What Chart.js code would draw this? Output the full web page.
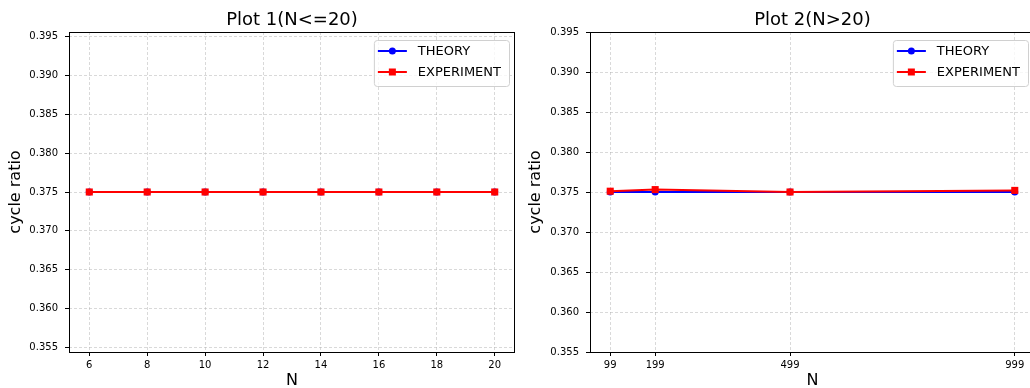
<!DOCTYPE html>
<html>
<head>
<meta charset="utf-8">
<script src="https://cdn.jsdelivr.net/npm/chart.js@4.4.0/dist/chart.umd.min.js"></script>
<style>
  html, body { margin: 0; padding: 0; background: #fff; overflow: hidden; }
  #wrap { position: relative; width: 1030px; height: 388px; overflow: hidden; background: #fff; }
  .box { position: absolute; top: 0; width: 520px; height: 388px; }
</style>
</head>
<body>
<div id="wrap">
  <div class="box" style="left:0"><canvas id="plot1" width="520" height="388"></canvas></div>
  <div class="box" style="left:520px"><canvas id="plot2" width="520" height="388"></canvas></div>
</div>
<script>
// data
const nSmall = [6, 8, 10, 12, 14, 16, 18, 20];
const theorySmall = [0.375, 0.375, 0.375, 0.375, 0.375, 0.375, 0.375, 0.375];
const experimentSmall = [0.375, 0.375, 0.375, 0.375, 0.375, 0.375, 0.375, 0.375];

const nLarge = [99, 199, 499, 999];
const theoryLarge = [0.375, 0.375, 0.375, 0.375];
const experimentLarge = [0.3751, 0.3753, 0.3750, 0.3752];

const yTickValues = [0.355, 0.360, 0.365, 0.370, 0.375, 0.380, 0.385, 0.390, 0.395];

const FONT = '"DejaVu Sans", sans-serif';

// frame, title and legend drawn like matplotlib
const decorations = {
  id: 'decorations',
  afterDraw(chart, args, opts) {
    const { ctx, chartArea: a } = chart;
    ctx.save();

    // axes frame
    ctx.strokeStyle = '#000';
    ctx.lineWidth = 1;
    ctx.strokeRect(Math.round(a.left) + 0.5, Math.round(a.top) + 0.5,
      Math.round(a.right - a.left) - 1, Math.round(a.bottom - a.top));

    // title
    ctx.fillStyle = '#000';
    ctx.font = '18px ' + FONT;
    ctx.textAlign = 'center';
    ctx.textBaseline = 'middle';
    ctx.fillText(opts.title, opts.titleX, 20);

    // legend
    ctx.font = '13px ' + FONT;
    const items = chart.data.datasets;
    let textW = 0;
    items.forEach(d => { textW = Math.max(textW, ctx.measureText(d.label).width); });
    const w = 44 + textW + 8;
    const h = 46;
    const x0 = opts.legendRight - w;
    const y0 = 40;
    ctx.beginPath();
    ctx.roundRect(x0 + 0.5, y0 + 0.5, w, h, 3);
    ctx.fillStyle = 'rgba(255,255,255,0.8)';
    ctx.fill();
    ctx.strokeStyle = '#d0d0d0';
    ctx.stroke();

    const legendOrder = [...items].sort((p, q) => p.legendIndex - q.legendIndex);
    legendOrder.forEach((d, i) => {
      const y = y0 + 11 + i * 21;
      ctx.strokeStyle = d.borderColor;
      ctx.lineWidth = 2;
      ctx.beginPath();
      ctx.moveTo(x0 + 4, y);
      ctx.lineTo(x0 + 33, y);
      ctx.stroke();
      ctx.fillStyle = d.borderColor;
      if (d.pointStyle === 'rect') {
        ctx.fillRect(x0 + 18.5 - 3.5, y - 3.5, 7, 7);
      } else {
        ctx.beginPath();
        ctx.arc(x0 + 18.5, y, 3.5, 0, Math.PI * 2);
        ctx.fill();
      }
      ctx.fillStyle = '#000';
      ctx.textAlign = 'left';
      ctx.textBaseline = 'middle';
      ctx.fillText(d.label, x0 + 44, y + 1);
    });
    ctx.restore();
  }
};

function makeChart(id, xs, theory, experiment, cfg) {
  const ctx = document.getElementById(id).getContext('2d');
  return new Chart(ctx, {
    type: 'line',
    data: {
      datasets: [
        {
          label: 'THEORY',
          legendIndex: 0,
          order: 1,
          data: xs.map((x, i) => ({ x: x, y: theory[i] })),
          borderColor: '#0000ff',
          backgroundColor: '#0000ff',
          borderWidth: 2,
          pointStyle: 'circle',
          pointRadius: 3.5,
          pointBorderWidth: 0,
          tension: 0
        },
        {
          label: 'EXPERIMENT',
          legendIndex: 1,
          order: 0,
          data: xs.map((x, i) => ({ x: x, y: experiment[i] })),
          borderColor: '#ff0000',
          backgroundColor: '#ff0000',
          borderWidth: 2,
          pointStyle: 'rect',
          pointRadius: 5,
          pointBorderWidth: 0,
          tension: 0
        }
      ]
    },
    options: {
      responsive: false,
      animation: false,
      devicePixelRatio: 1,
      layout: { padding: { top: 32, right: cfg.padRight, bottom: 0, left: 0 } },
      plugins: {
        legend: { display: false },
        title: { display: false },
        tooltip: { enabled: false },
        decorations: { title: cfg.title, titleX: cfg.titleX, legendRight: cfg.legendRight }
      },
      scales: {
        x: {
          type: 'linear',
          min: cfg.xMin,
          max: cfg.xMax,
          afterBuildTicks: s => { s.ticks = xs.map(v => ({ value: v })); },
          afterFit: s => { s.height = 36; },
          ticks: {
            color: '#000',
            font: { family: FONT, size: 10 },
            padding: 3,
            maxRotation: 0,
            autoSkip: false,
            callback: v => String(v)
          },
          grid: {
            color: 'rgba(170,170,170,0.45)',
            lineWidth: 1,
            tickColor: '#000',
            tickLength: 4
          },
          border: { display: false, dash: [3, 2] },
          title: {
            display: true,
            text: 'N',
            color: '#000',
            font: { family: FONT, size: 16, lineHeight: 0.875 },
            padding: 0
          }
        },
        y: {
          type: 'linear',
          min: cfg.yMin,
          max: cfg.yMax,
          afterBuildTicks: s => { s.ticks = yTickValues.map(v => ({ value: v })); },
          afterFit: s => { s.width = cfg.yWidth; },
          ticks: {
            color: '#000',
            font: { family: FONT, size: 10 },
            padding: 7,
            callback: v => v.toFixed(3)
          },
          grid: {
            color: 'rgba(170,170,170,0.45)',
            lineWidth: 1,
            tickColor: '#000',
            tickLength: 4
          },
          border: { display: false, dash: [3, 2] },
          title: {
            display: true,
            text: 'cycle ratio',
            color: '#000',
            font: { family: FONT, size: 16 },
            padding: { top: 6, bottom: 0 }
          }
        }
      }
    },
    plugins: [decorations]
  });
}

makeChart('plot1', nSmall, theorySmall, experimentSmall, {
  title: 'Plot 1(N<=20)', titleX: 292, legendRight: 509,
  xMin: 5.3, xMax: 20.7, yMin: 0.3544, yMax: 0.3956,
  yWidth: 69, padRight: 5
});

makeChart('plot2', nLarge, theoryLarge, experimentLarge, {
  title: 'Plot 2(N>20)', titleX: 292.5, legendRight: 508,
  xMin: 54, xMax: 1044, yMin: 0.355, yMax: 0.395,
  yWidth: 70, padRight: 3
});
</script>
</body>
</html>
